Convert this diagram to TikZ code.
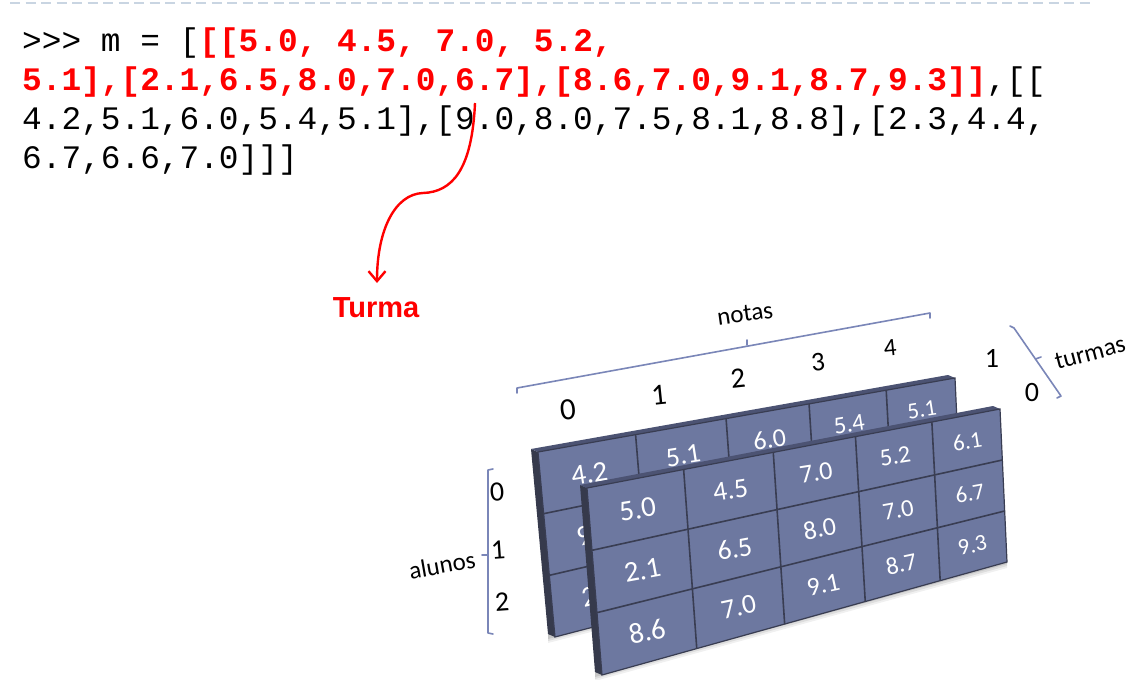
\documentclass[tikz,border=0pt]{standalone}
\usepackage{fontspec}
\setmainfont{Carlito}
\newfontfamily\codefont{Liberation Mono}
\newfontfamily\turmafont{Liberation Sans}
\usetikzlibrary{calc,arrows.meta}
\definecolor{cellfill}{HTML}{6D78A0}
\definecolor{celldark}{HTML}{393D52}
\definecolor{cellside}{HTML}{363A4C}
\definecolor{celltop}{HTML}{4C5373}
\definecolor{brk}{HTML}{7A86B8}
\definecolor{dashc}{HTML}{C9D5E2}
\definecolor{codered}{HTML}{FF0000}
\newcommand{\mypanel}[2]{%
  \foreach \f [count=\i from 0] in {0,0.234,0.451,0.650,0.835,1}{%
    \coordinate (#1T\i) at ($(#1TL)!\f!(#1TR)$);
    \coordinate (#1B\i) at ($(#1BL)!\f!(#1BR)$);
  }
  \foreach \s/\o in {6/0.06,4/0.08,2/0.10}{%
    \fill[black,opacity=\o] ($(#1BL)+(-7,-3)$) -- ($(#1BL)+(-7,\s)$) -- ($(#1BR)+(0,\s)$) -- (#1BR) -- cycle;
  }
  \fill[cellside] (#1TL) -- ($(#1TL)+(-7,-3)$) -- ($(#1BL)+(-7,-3)$) -- (#1BL) -- cycle;
  \fill[celltop] (#1TL) -- ($(#1TL)+(-7,-3)$) -- ($(#1TR)+(-7,-3)$) -- (#1TR) -- cycle;
  \path[face] (#1TL) -- (#1TR) -- (#1BR) -- (#1BL) -- cycle;
  \foreach \i in {1,...,4} \draw[gridline] (#1T\i) -- (#1B\i);
  \foreach \k in {1,2} \draw[gridline] ($(#1TL)!\k/3!(#1BL)$) -- ($(#1TR)!\k/3!(#1BR)$);
  \foreach \c/\r/\v in {#2}{%
    \pgfmathtruncatemacro\cn{\c+1}%
    \pgfmathsetmacro\fs{29-1.5*\c}%
    \pgfmathsetmacro\rot{9+1.5*\r}%
    \node[celltxt,rotate=\rot,font=\fontsize{\fs}{\fs}\selectfont] (#1v\c\r)
      at ($($(#1T\c)!.5!(#1T\cn)$)!{(2*\r+1)/6}!($(#1B\c)!.5!(#1B\cn)$)$) {\v};
  }
}
\begin{document}
\begin{tikzpicture}[x=1pt,y=-1pt,
  code/.style={anchor=base west,inner sep=0pt,font=\codefont\fontsize{32.8}{39}\selectfont},
  face/.style={fill=cellfill,draw=celldark,line width=1.2pt},
  gridline/.style={draw=celldark,line width=1.6pt},
  celltxt/.style={text=white,inner sep=0pt},
  axisnum/.style={inner sep=0pt,text=black},
  bracket/.style={draw=brk,line width=1.6pt,line cap=round,line join=round},
  lbl/.style={inner sep=0pt,text=black,font=\fontsize{25}{25}\selectfont}]
\useasboundingbox[fill=white] (0,0) rectangle (1141,680);

% top dashed rule
\coordinate (dl) at (10,3);
\coordinate (dr) at (1090,3);
\draw[dashc,line width=2pt,dash pattern=on 10pt off 5.5pt] (dl) -- (dr);

% code
\node[code] (l1) at (22,51) {>{}>{}> m = [{\bfseries\color{codered}[[5.0, 4.5, 7.0, 5.2,}};
\node[code] (l2) at (22,90) {{\bfseries\color{codered}5.1],[2.1,6.5,8.0,7.0,6.7],[8.6,7.0,9.1,8.7,9.3]]},[[};
\node[code] (l3) at (22,129) {4.2,5.1,6.0,5.4,5.1],[9.0,8.0,7.5,8.1,8.8],[2.3,4.4,};
\node[code] (l4) at (22,168) {6.7,6.6,7.0]]]};

% Turma label and curved arrow
\node[font=\turmafont\bfseries\fontsize{29}{29}\selectfont,text=codered,anchor=base,inner sep=0pt] (turma) at (376,317) {Turma};
\coordinate (cs) at (475,103);
\coordinate (cm) at (423,193);
\coordinate (ce) at (377,283);
\draw[codered,line width=2.4pt,-{Straight Barb[length=10pt,width=17pt,line width=2.4pt]}]
  (cs) .. controls (472,170) and (452,192) .. (cm) .. controls (395,194) and (377,230) .. (ce);

% panels
\coordinate (bTL) at (538,452);
\coordinate (bTR) at (955,378);
\coordinate (bBL) at (555,637);
\coordinate (bBR) at (962,531);
\coordinate (fTL) at (587,488);
\coordinate (fTR) at (1000,409);
\coordinate (fBL) at (602,675);
\coordinate (fBR) at (1007,562);

\mypanel{b}{0/0/4.2,1/0/5.1,2/0/6.0,3/0/5.4,4/0/5.1,0/1/9.0,1/1/8.0,2/1/7.5,3/1/8.1,4/1/8.8,0/2/2.3,1/2/4.4,2/2/6.7,3/2/6.6,4/2/7.0}
\mypanel{f}{0/0/5.0,1/0/4.5,2/0/7.0,3/0/5.2,4/0/6.1,0/1/2.1,1/1/6.5,2/1/8.0,3/1/7.0,4/1/6.7,0/2/8.6,1/2/7.0,2/2/9.1,3/2/8.7,4/2/9.3}

% notas axis
\coordinate (n1) at (517,393);
\coordinate (n2) at (517,388);
\coordinate (n3) at (930,313);
\coordinate (n4) at (930,318);
\coordinate (nm1) at (747,345);
\coordinate (nm2) at (747,340);
\draw[bracket] (n1) -- (n2) -- (n3) -- (n4);
\draw[bracket] (nm1) -- (nm2);
\node[lbl,rotate=8] (notas) at (745,314) {notas};
\node[axisnum,rotate=6,font=\fontsize{31}{31}\selectfont] (c0) at (568,410) {0};
\node[axisnum,rotate=6,font=\fontsize{30}{30}\selectfont] (c1) at (659,395) {1};
\node[axisnum,rotate=6,font=\fontsize{29}{29}\selectfont] (c2) at (738,378) {2};
\node[axisnum,rotate=6,font=\fontsize{27}{27}\selectfont] (c3) at (818,362) {3};
\node[axisnum,rotate=6,font=\fontsize{25}{25}\selectfont] (c4) at (890,348) {4};

% turmas axis
\coordinate (t1) at (1010,326);
\coordinate (t2) at (1014,328);
\coordinate (t3) at (1061,396);
\coordinate (t4) at (1057,398);
\coordinate (tm1) at (1035.5,359);
\coordinate (tm2) at (1041,357);
\draw[bracket] (t1) -- (t2) -- (t3) -- (t4);
\draw[bracket] (tm1) -- (tm2);
\node[lbl,rotate=15] (turmas) at (1090,353) {turmas};
\node[axisnum,font=\fontsize{28}{28}\selectfont] (p1) at (992,358) {1};
\node[axisnum,font=\fontsize{28}{28}\selectfont] (p0) at (1032,393) {0};

% alunos axis
\coordinate (a1) at (493,469);
\coordinate (a2) at (488,470);
\coordinate (a3) at (488,633);
\coordinate (a4) at (493,634);
\coordinate (am1) at (488,555);
\coordinate (am2) at (482,555);
\draw[bracket] (a1) -- (a2) -- (a3) -- (a4);
\draw[bracket] (am1) -- (am2);
\node[lbl,rotate=10] (alunos) at (442,565) {alunos};
\node[axisnum,rotate=4,font=\fontsize{28}{28}\selectfont] (r0) at (497,492) {0};
\node[axisnum,rotate=4,font=\fontsize{28}{28}\selectfont] (r1) at (498,550) {1};
\node[axisnum,rotate=4,font=\fontsize{28}{28}\selectfont] (r2) at (502,602) {2};
\end{tikzpicture}
\end{document}
